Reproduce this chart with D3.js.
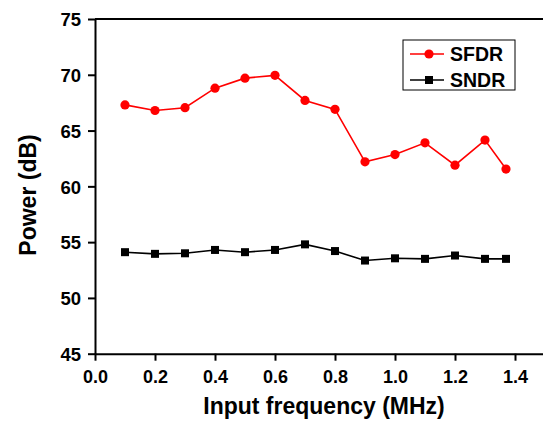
<!DOCTYPE html>
<html>
<head>
<meta charset="utf-8">
<script src="https://cdn.jsdelivr.net/npm/d3@7"></script>
<style>
  body { margin: 0; background: #fff; }
  svg { display: block; font-family: "Liberation Sans", Arial, sans-serif; }
</style>
</head>
<body>
<div class="chart"></div>
<script>
// data
const freq = [0.1, 0.2, 0.3, 0.4, 0.5, 0.6, 0.7, 0.8, 0.9, 1.0, 1.1, 1.2, 1.3, 1.37];
const sfdr = [67.3, 66.8, 67.05, 68.8, 69.7, 69.95, 67.7, 66.9, 62.2, 62.85, 63.9, 61.9, 64.15, 61.55];
const sndr = [54.1, 53.95, 54.0, 54.3, 54.1, 54.3, 54.8, 54.2, 53.35, 53.55, 53.5, 53.8, 53.5, 53.5];
const xTicks = [0.0, 0.2, 0.4, 0.6, 0.8, 1.0, 1.2, 1.4];
const yTicks = [45, 50, 55, 60, 65, 70, 75];

const W = 543, H = 421;
const margin = {top: 19, right: 0, bottom: 68, left: 95};

const svg = d3.select('.chart').append('svg')
    .attr('width', W)
    .attr('height', H);

const x = d3.scaleLinear().domain([0, 1.5]).range([margin.left, margin.left + 450]);
const y = d3.scaleLinear().domain([45, 75]).range([H - margin.bottom + 0.7, margin.top]);

// top frame line
svg.append('line')
    .attr('x1', x(0)).attr('x2', W)
    .attr('y1', y(75)).attr('y2', y(75))
    .attr('stroke', '#000').attr('stroke-width', 2);

// x axis
const gx = svg.append('g')
    .attr('transform', 'translate(0,' + y(45) + ')')
    .call(d3.axisBottom(x).tickValues(xTicks).tickFormat(d3.format('.1f')).tickSize(7).tickSizeOuter(0));
gx.select('.domain').attr('stroke-width', 2);
gx.selectAll('.tick line').attr('stroke-width', 2);
gx.selectAll('.tick text')
    .attr('dy', '1.1em')
    .style('font-size', '18px')
    .style('font-weight', 'bold')
    .attr('fill', '#000');

// y axis
const gy = svg.append('g')
    .attr('transform', 'translate(' + x(0) + ',0)')
    .call(d3.axisLeft(y).tickValues(yTicks).tickSize(7).tickSizeOuter(0));
gy.select('.domain').attr('stroke-width', 2);
gy.selectAll('.tick line').attr('stroke-width', 2);
gy.selectAll('.tick text')
    .attr('x', -14)
    .attr('dy', '0.36em')
    .style('font-size', '18.5px')
    .style('font-weight', 'bold')
    .attr('fill', '#000');

// axis titles
svg.append('text')
    .attr('x', 324).attr('y', 414)
    .attr('text-anchor', 'middle')
    .style('font-size', '23px').style('font-weight', 'bold')
    .text('Input frequency (MHz)');

svg.append('text')
    .attr('transform', 'translate(36,195) rotate(-90)')
    .attr('text-anchor', 'middle')
    .style('font-size', '23px').style('font-weight', 'bold')
    .text('Power (dB)');

const line = d3.line()
    .x(function(d){ return x(d[0]); })
    .y(function(d){ return y(d[1]); });

const sfdrPts = freq.map(function(f, i){ return [f, sfdr[i]]; });
const sndrPts = freq.map(function(f, i){ return [f, sndr[i]]; });

// SNDR series
svg.append('path')
    .datum(sndrPts)
    .attr('d', line)
    .attr('fill', 'none')
    .attr('stroke', '#000')
    .attr('stroke-width', 1.6);
svg.selectAll('.sq')
    .data(sndrPts)
    .enter().append('rect')
    .attr('class', 'sq')
    .attr('x', function(d){ return x(d[0]) - 4; })
    .attr('y', function(d){ return y(d[1]) - 4; })
    .attr('width', 8).attr('height', 8)
    .attr('fill', '#000');

// SFDR series
svg.append('path')
    .datum(sfdrPts)
    .attr('d', line)
    .attr('fill', 'none')
    .attr('stroke', '#ff0000')
    .attr('stroke-width', 1.6);
svg.selectAll('.dot')
    .data(sfdrPts)
    .enter().append('circle')
    .attr('class', 'dot')
    .attr('cx', function(d){ return x(d[0]); })
    .attr('cy', function(d){ return y(d[1]); })
    .attr('r', 4.6)
    .attr('fill', '#ff0000');

// legend
const legend = svg.append('g').attr('transform', 'translate(403,40)');
legend.append('rect')
    .attr('width', 112).attr('height', 50)
    .attr('fill', '#fff').attr('stroke', '#000').attr('stroke-width', 1);
const items = [
    {name: 'SFDR', color: '#ff0000', shape: 'circle'},
    {name: 'SNDR', color: '#000', shape: 'square'}
];
items.forEach(function(it, i){
    const cy = 14 + i * 26;
    legend.append('line')
        .attr('x1', 7).attr('x2', 41)
        .attr('y1', cy).attr('y2', cy)
        .attr('stroke', it.color).attr('stroke-width', 1.6);
    if (it.shape === 'circle') {
        legend.append('circle').attr('cx', 26).attr('cy', cy).attr('r', 4.6).attr('fill', it.color);
    } else {
        legend.append('rect').attr('x', 22).attr('y', cy - 4).attr('width', 8).attr('height', 8).attr('fill', it.color);
    }
    legend.append('text')
        .attr('x', 47).attr('y', cy)
        .attr('dy', '0.36em')
        .style('font-size', '19.5px').style('font-weight', 'bold')
        .text(it.name);
});
</script>
</body>
</html>
